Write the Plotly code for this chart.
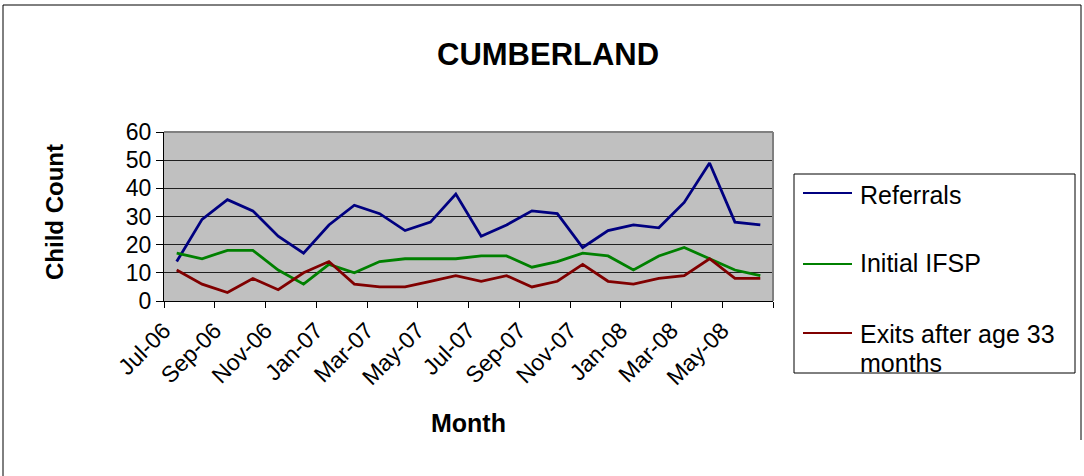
import plotly.graph_objects as go

months = ["Jul-06", "Aug-06", "Sep-06", "Oct-06", "Nov-06", "Dec-06",
          "Jan-07", "Feb-07", "Mar-07", "Apr-07", "May-07", "Jun-07",
          "Jul-07", "Aug-07", "Sep-07", "Oct-07", "Nov-07", "Dec-07",
          "Jan-08", "Feb-08", "Mar-08", "Apr-08", "May-08", "Jun-08"]
referrals = [14, 29, 36, 32, 23, 17, 27, 34, 31, 25, 28, 38,
             23, 27, 32, 31, 19, 25, 27, 26, 35, 49, 28, 27]
initial_ifsp = [17, 15, 18, 18, 11, 6, 13, 10, 14, 15, 15, 15,
                16, 16, 12, 14, 17, 16, 11, 16, 19, 15, 11, 9]
exits_33 = [11, 6, 3, 8, 4, 10, 14, 6, 5, 5, 7, 9,
            7, 9, 5, 7, 13, 7, 6, 8, 9, 15, 8, 8]
y_ticks = [0, 10, 20, 30, 40, 50, 60]

series = [
    ("Referrals", referrals, "#000080"),
    ("Initial IFSP", initial_ifsp, "#008000"),
    ("Exits after age 33 months", exits_33, "#800000"),
]

FONT = "Liberation Sans, Arial, sans-serif"
WIDTH, HEIGHT = 1084, 476
L, R, T, B = 164, 773, 132, 301


def fx(x):
    return (x - L) / (R - L)


def fy(y):
    return (B - y) / (B - T)


xs = list(range(len(months)))
fig = go.Figure()
for name, vals, color in series:
    fig.add_trace(go.Scatter(x=xs, y=vals, mode="lines", name=name,
                             line=dict(color=color, width=2.8),
                             showlegend=False))

# boundaries between every two categories
tick_pos = [i - 0.5 for i in range(0, len(months) + 1, 2)]
tick_txt = months[::2] + [""]

fig.update_layout(
    width=WIDTH, height=HEIGHT,
    margin=dict(l=L, r=WIDTH - R, t=T, b=HEIGHT - B),
    paper_bgcolor="white", plot_bgcolor="#C0C0C0",
    font=dict(family=FONT, color="black"),
    xaxis=dict(range=[-0.5, len(months) - 0.5], tickmode="array",
               tickvals=tick_pos, ticktext=tick_txt, tickangle=-45,
               ticks="outside", ticklen=6, tickcolor="black",
               showgrid=False, zeroline=False, showline=True,
               linecolor="black", linewidth=1,
               tickfont=dict(size=23, family=FONT)),
    yaxis=dict(range=[0, 60], tickmode="array", tickvals=y_ticks,
               ticks="outside", ticklen=7, tickcolor="black",
               showgrid=True, gridcolor="#202020", gridwidth=1,
               zeroline=False, showline=True, linecolor="black", linewidth=1,
               tickfont=dict(size=23, family=FONT)),
)

shapes = [
    # plot area border top/right
    dict(type="line", xref="paper", yref="paper", x0=0, x1=1, y0=1, y1=1,
         line=dict(color="#808080", width=2)),
    dict(type="line", xref="paper", yref="paper", x0=1, x1=1, y0=0, y1=1,
         line=dict(color="#808080", width=2)),
    # chart frame
    dict(type="line", xref="paper", yref="paper", x0=fx(3), x1=fx(3), y0=fy(5), y1=fy(476),
         line=dict(color="black", width=1)),
    dict(type="line", xref="paper", yref="paper", x0=fx(3), x1=fx(1081), y0=fy(5), y1=fy(5),
         line=dict(color="black", width=1)),
    dict(type="line", xref="paper", yref="paper", x0=fx(1081), x1=fx(1081), y0=fy(5), y1=fy(440),
         line=dict(color="black", width=1)),
    # legend box
    dict(type="rect", xref="paper", yref="paper", x0=fx(794), x1=fx(1075), y0=fy(373), y1=fy(174),
         line=dict(color="black", width=1), fillcolor="white"),
]
key_y = [193, 264, 333]
for (name, vals, color), ky in zip(series, key_y):
    shapes.append(dict(type="line", xref="paper", yref="paper", x0=fx(803), x1=fx(852),
                       y0=fy(ky), y1=fy(ky), line=dict(color=color, width=2)))
fig.update_layout(shapes=shapes)

ann = [
    dict(text="<b>CUMBERLAND</b>", x=fx(548), y=fy(55), font=dict(size=31)),
    dict(text="<b>Child Count</b>", x=fx(54), y=fy(212), textangle=-90, font=dict(size=24)),
    dict(text="<b>Month</b>", x=fx(468), y=fy(423), font=dict(size=25)),
]
legend_lines = [("Referrals", 195), ("Initial IFSP", 263),
                ("Exits after age 33", 334), ("months", 363)]
for txt, yy in legend_lines:
    ann.append(dict(text=txt, x=fx(858), y=fy(yy), xanchor="left", font=dict(size=25)))
for a in ann:
    a.setdefault("xanchor", "center")
    a.update(xref="paper", yref="paper", yanchor="middle", showarrow=False)
    a["font"].update(family=FONT, color="black")
fig.update_layout(annotations=ann)

fig.write_html("out.html",
               config={"displayModeBar": False},
               post_script="document.body.style.margin='0px';"
                           "document.body.style.overflow='hidden';")
